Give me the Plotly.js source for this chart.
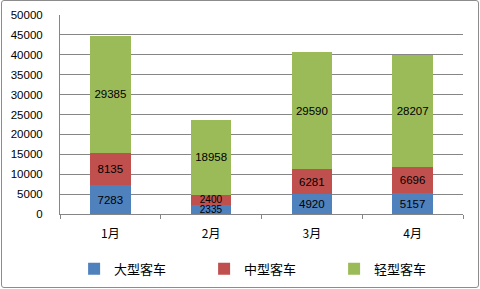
<!DOCTYPE html>
<html><head><meta charset="utf-8">
<script src="https://cdn.plot.ly/plotly-3.0.1.min.js"></script>
<style>html,body{margin:0;padding:0;background:#fff}#c{width:480px;height:289px;position:relative}
#b{position:absolute;left:1px;top:0px;width:476px;height:286px;border:1px solid #8c8c8c;border-radius:3px;pointer-events:none}</style>
</head><body><div style="position:relative"><div id="c"></div><div id="b"></div></div>
<script>
const months = ['1月','2月','3月','4月'];
const large = [7283, 2335, 4920, 5157];
const medium = [8135, 2400, 6281, 6696];
const light = [29385, 18958, 29590, 28207];
const names = ['大型客车','中型客车','轻型客车'];
const colors = ['#4F81BD','#C0504D','#9BBB59'];
const series = [large, medium, light];
const traces = series.map((v,i)=>({
  type:'bar', x:months, y:v, name:names[i], marker:{color:colors[i]},
  text:v.map(String), textposition:'inside', insidetextanchor:'middle',
  constraintext:'none',
  textfont:{color:'#000', size:v.map(d=>d<3000?10:11.5), family:'Liberation Sans, Arial'},
  width:0.4
}));
const layout = {
  width:480, height:289, barmode:'stack', bargap:0.6,
  margin:{l:60, r:17, t:15, b:75, autoexpand:false},
  paper_bgcolor:'#fff', plot_bgcolor:'#fff',
  font:{family:'Liberation Sans, Noto Sans CJK SC', size:11, color:'#000'},
  xaxis:{type:'category', showline:true, linecolor:'#868686', ticks:'outside', tickson:'boundaries',
    ticklen:4, tickcolor:'#868686', showgrid:false, tickfont:{size:12, family:'Noto Sans CJK SC'}, ticklabelstandoff:9},
  yaxis:{range:[0,50000], dtick:5000, tickformat:'d', showline:true, linecolor:'#868686', gridcolor:'#868686', gridwidth:1,
    ticks:'', tickfont:{size:11.5}, ticklabelstandoff:14, zeroline:false},
  showlegend:true,
  legend:{orientation:'h', x:0.035, xanchor:'left', y:-0.2, yanchor:'top', traceorder:'normal',
    font:{size:13, family:'Noto Sans CJK SC'}, entrywidth:85, entrywidthmode:'pixels', itemwidth:30, tracegroupgap:0}
};
Plotly.newPlot('c', traces, layout, {staticPlot:true});
</script></body></html>
